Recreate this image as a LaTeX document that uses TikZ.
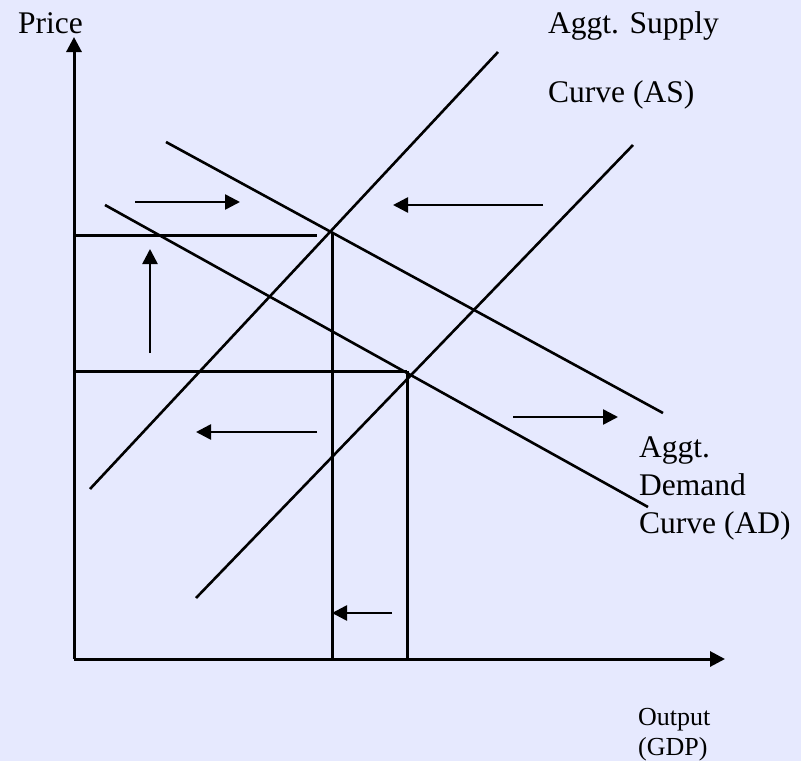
\documentclass[tikz,border=0pt]{standalone}
\usepackage{fontspec}
\setmainfont{Liberation Serif}
\usetikzlibrary{arrows.meta}
\definecolor{bgc}{RGB}{230,233,254}
\begin{document}
\begin{tikzpicture}[x=1pt,y=-1pt,
  ln/.style={line width=3pt, black},
  cv/.style={line width=2.6pt, black},
  arr/.style={line width=2.6pt, -{Triangle[length=15pt,width=15pt]}},
  big/.style={anchor=base west, inner sep=0pt, font=\fontsize{31.5}{38}\selectfont},
  small/.style={anchor=base west, inner sep=0pt, font=\fontsize{26}{30}\selectfont}]
\fill[bgc] (0,0) rectangle (801,761);
\useasboundingbox (0,0) rectangle (801,761);
% axes
\coordinate (O) at (74,659);
\coordinate (ytip) at (74,37);
\coordinate (xtip) at (725,659);
\draw[ln, -{Triangle[length=15pt,width=15pt]}] (O) -- (ytip);
\draw[ln, -{Triangle[length=15pt,width=15pt]}] (O) -- (xtip);
% curves
\coordinate (as1a) at (90,489);  \coordinate (as1b) at (498,52);
\coordinate (as2a) at (196,598); \coordinate (as2b) at (633,145);
\coordinate (ad1a) at (166,142); \coordinate (ad1b) at (663,413);
\coordinate (ad2a) at (105,205); \coordinate (ad2b) at (648,507);
\draw[cv] (as1a) -- (as1b);
\draw[cv] (as2a) -- (as2b);
\draw[cv] (ad1a) -- (ad1b);
\draw[cv] (ad2a) -- (ad2b);
% equilibrium lines
\coordinate (e1) at (332,233); \coordinate (e2) at (407,371);
\coordinate (p1) at (74,235); \coordinate (p1e) at (317,235);
\coordinate (p2) at (74,371);
\coordinate (q1) at (332,659); \coordinate (q2) at (407,659);
\draw[ln] (p1) -- (p1e);
\draw[ln] (e1) -- (q1);
\draw[ln] (p2) -- (e2);
\draw[ln] (e2) -- (q2);
% shift arrows
\coordinate (a1s) at (135,202); \coordinate (a1e) at (240,202);
\coordinate (a2s) at (543,205); \coordinate (a2e) at (393,205);
\coordinate (a3s) at (150,353); \coordinate (a3e) at (150,249);
\coordinate (a4s) at (317,432); \coordinate (a4e) at (196,432);
\coordinate (a5s) at (513,417); \coordinate (a5e) at (618,417);
\coordinate (a6s) at (392,613); \coordinate (a6e) at (332,613);
\draw[arr] (a1s) -- (a1e);
\draw[arr] (a2s) -- (a2e);
\draw[arr] (a3s) -- (a3e);
\draw[arr] (a4s) -- (a4e);
\draw[arr] (a5s) -- (a5e);
\draw[arr] (a6s) -- (a6e);
% labels
\node[big] (price) at (18,33) {Price};
\node[big] (as1) at (548,33) {Aggt. Supply};
\node[big] (as2) at (548,102) {Curve (AS)};
\node[big] (ad1) at (639,457) {Aggt.};
\node[big] (ad2) at (639,495) {Demand};
\node[big] (ad3) at (639,533) {Curve (AD)};
\node[small] (out1) at (638,725) {Output};
\node[small] (out2) at (638,755) {(GDP)};
\end{tikzpicture}
\end{document}
